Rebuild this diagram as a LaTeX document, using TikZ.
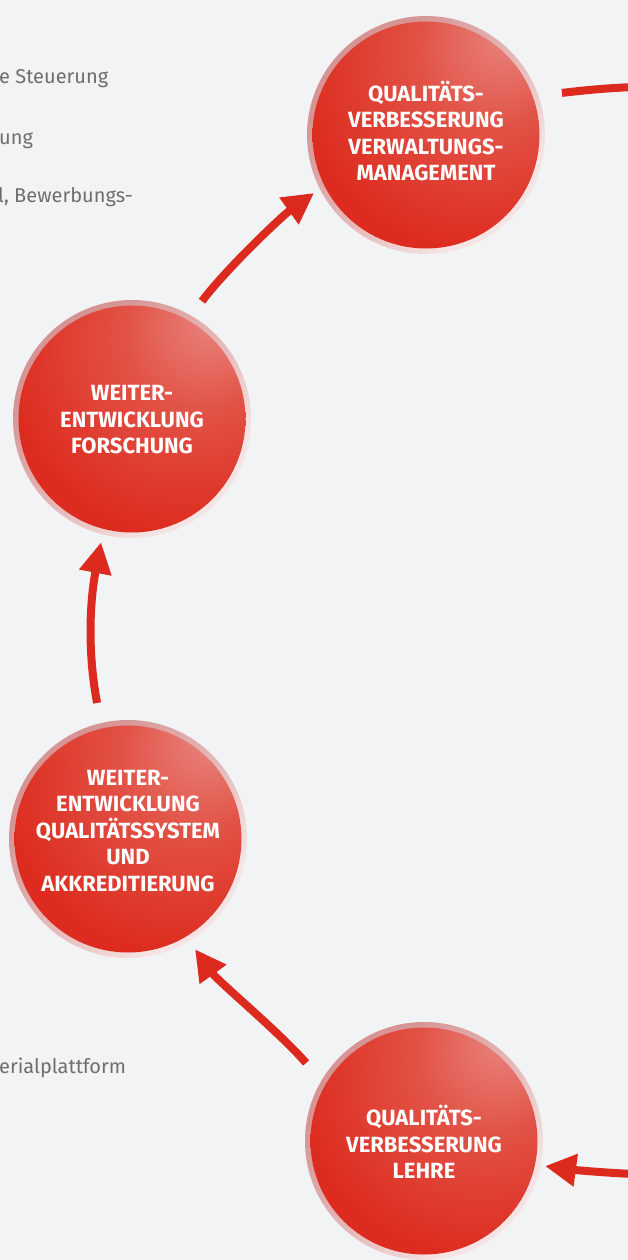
\documentclass[tikz,border=0pt]{standalone}
\usepackage{fontspec}
\setmainfont{Fira Sans}
\usetikzlibrary{arrows.meta,calc}
\definecolor{bg}{RGB}{242,243,245}
\definecolor{arrowred}{RGB}{220,43,30}
\definecolor{ballhi}{RGB}{232,135,128}
\definecolor{ballmid}{RGB}{226,82,70}
\definecolor{ballred}{RGB}{221,44,31}
\definecolor{balldark}{RGB}{183,24,16}
\definecolor{ringdark}{RGB}{214,148,148}
\definecolor{ringmid}{RGB}{232,190,190}
\definecolor{ringlight}{RGB}{246,228,228}
\definecolor{graytext}{RGB}{110,110,112}
\pgfdeclareradialshading{redball}{\pgfpoint{18bp}{22bp}}{color(0bp)=(ballhi); color(16bp)=(ballmid); color(36bp)=(ballred); color(56bp)=(ballred); color(70bp)=(balldark); color(80bp)=(balldark)}
\pgfdeclarehorizontalshading{ringsh}{100bp}{color(0bp)=(ringdark); color(30bp)=(ringdark); color(55bp)=(ringmid); color(70bp)=(ringlight); color(100bp)=(ringlight)}
\tikzset{
  ball/.style={circle, minimum size=238pt, inner sep=0pt, outer sep=0pt,
    shade, shading=ringsh, shading angle=-45,
    path picture={\shade[shading=redball, shading angle=0] (path picture bounding box.center) circle (113.5pt);}},
  balltext/.style={text=white, font=\bfseries\fontsize{22}{26.5}\selectfont, align=center, inner sep=0pt},
  arr/.style={draw=arrowred, line width=8pt, -{Triangle[length=31pt,width=31pt]}},
  plainarr/.style={draw=arrowred, line width=8pt},
  sidetext/.style={text=graytext, font=\fontsize{20}{24}\selectfont, anchor=base west, inner sep=0pt}
}
\begin{document}
\begin{tikzpicture}[x=1pt,y=-1pt]
\fill[bg] (0,0) rectangle (628,1260);
\useasboundingbox (0,0) rectangle (628,1260);
\clip (0,0) rectangle (628,1260);

% side texts (cut by left edge)
\node[sidetext] (s1) at (-1,84) {e Steuerung};
\node[sidetext] (s2) at (-1,145) {ung};
\node[sidetext] (s3) at (-2,202) {l, Bewerbungs-};
\node[sidetext] (s4) at (-1,1073) {erialplattform};

% circles
\node[ball] (c1) at (426,135) {};
\node[ball] (c2) at (132,419) {};
\node[ball] (c3) at (128,839) {};
\node[ball] (c4) at (424,1141) {};

\node[balltext] (t1) at (426,131) {QUALITÄTS-\\VERBESSERUNG\\VERWALTUNGS-\\MANAGEMENT};
\node[balltext] (t2) at (132,420) {WEITER-\\ENTWICKLUNG\\FORSCHUNG};
\node[balltext] (t3) at (128,831) {WEITER-\\ENTWICKLUNG\\QUALITÄTSSYSTEM\\UND\\AKKREDITIERUNG};
\node[balltext] (t4) at (424,1142) {QUALITÄTS-\\VERBESSERUNG\\LEHRE};

% free ends at the right edge
\coordinate (eout) at (634,87);
\coordinate (din) at (634,1174);

% arrows
\draw[arr] ($(c2)+(59.3:137pt)$) .. controls +(24,-32) and +(-32,23) .. ($(c1)+(207.4:126pt)$);
\draw[arr] ($(c3)+(102.8:139.5pt)$) .. controls +(-10,-53) and +(-11,58) .. ($(c2)+(255.9:127pt)$);
\draw[arr] ($(c4)+(146.5:141.4pt)$) .. controls +(-26,-30) and +(23,32) .. ($(c3)+(301.3:129pt)$);
\draw[arr] (din) .. controls +(-25,-1) and +(30,4) .. ($(c4)+(-11.7:123.6pt)$);
\draw[plainarr] ($(c1)+(17.2:142.3pt)$) .. controls +(25,-3) and +(-25,1) .. (eout);
\end{tikzpicture}
\end{document}
